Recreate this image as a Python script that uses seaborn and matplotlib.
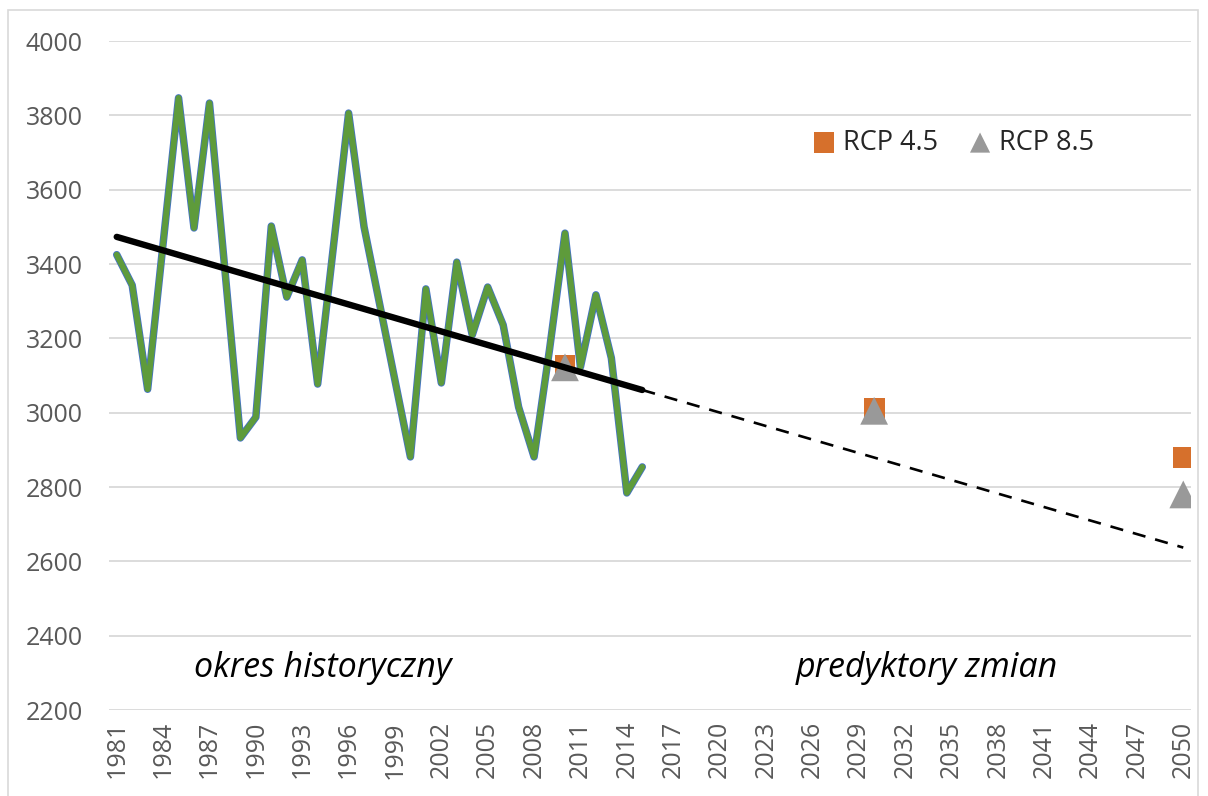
#!/usr/bin/env python3
"""Wykres: okres historyczny i predyktory zmian (RCP 4.5 / RCP 8.5)."""

import matplotlib
matplotlib.use("Agg")
import matplotlib.pyplot as plt
import seaborn as sns
from matplotlib.patches import Rectangle

# dane historyczne 1981-2015
LATA = list(range(1981, 2016))
WARTOSCI = [3425, 3343, 3063, 3455, 3847, 3497, 3833, 3383, 2932, 2988,
            3502, 3311, 3411, 3077, 3440, 3806, 3500, 3294, 3087, 2881,
            3333, 3080, 3405, 3209, 3338, 3236, 3015, 2881, 3170, 3483,
            3123, 3317, 3147, 2784, 2854]

# linia trendu: część historyczna i przedłużenie
TREND_LATA_HIST = [1981, 2015]
TREND_HIST = [3473, 3061]
TREND_LATA_PROJ = [2015, 2050]
TREND_PROJ = [3061, 2637]

# scenariusze
RCP_LATA = [2010, 2030, 2050]
RCP45 = [3127, 3012, 2880]
RCP85 = [3122, 3005, 2780]

X_TICKS = list(range(1981, 2051, 3))
Y_TICKS = list(range(2200, 4001, 200))

ZIELONY = "#5E9B3B"
NIEBIESKI = "#4472C4"
POMARANCZ = "#D6702C"
SZARY = "#999999"
TEKST = "#595959"


def main() -> None:
    sns.set_theme(style="white")
    plt.rcParams["font.family"] = ["Open Sans", "DejaVu Sans"]

    fig, ax = plt.subplots(figsize=(12.08, 7.96), dpi=100)
    fig.subplots_adjust(left=109 / 1208, right=1191 / 1208,
                        bottom=1 - 710 / 796, top=1 - 41 / 796)

    # znaczniki scenariuszy (pod linią)
    sns.scatterplot(x=RCP_LATA, y=RCP45, marker="s", s=225, color=POMARANCZ,
                    edgecolor="none", label="RCP 4.5", zorder=2, ax=ax)
    sns.scatterplot(x=RCP_LATA, y=RCP85, marker="^", s=400, color=SZARY,
                    edgecolor="none", label="RCP 8.5", zorder=2.1, ax=ax)

    # seria historyczna: zielona z cienką niebieską obwódką
    sns.lineplot(x=LATA, y=WARTOSCI, color=NIEBIESKI, linewidth=5.4,
                 solid_joinstyle="round", solid_capstyle="round",
                 legend=False, zorder=3, ax=ax)
    sns.lineplot(x=LATA, y=WARTOSCI, color=ZIELONY, linewidth=4.2,
                 solid_joinstyle="round", solid_capstyle="round",
                 legend=False, zorder=3.1, ax=ax)

    # trend
    sns.lineplot(x=TREND_LATA_HIST, y=TREND_HIST, color="black", linewidth=4.6,
                 solid_capstyle="round", legend=False, zorder=4, ax=ax)
    sns.lineplot(x=TREND_LATA_PROJ, y=TREND_PROJ, color="black", linewidth=1.9,
                 linestyle=(0, (5, 3.8)), legend=False, zorder=4, ax=ax)

    ax.set_xlim(1980.5, 2050.5)
    ax.set_ylim(2200, 4000)
    ax.set_xticks(X_TICKS)
    ax.set_xticklabels([str(r) for r in X_TICKS], rotation=90)
    ax.set_yticks(Y_TICKS)
    ax.tick_params(axis="both", length=0, labelsize=18, labelcolor=TEKST)
    ax.tick_params(axis="y", pad=19)
    ax.tick_params(axis="x", pad=8)
    ax.yaxis.grid(True, color="#D9D9D9", linewidth=1.3)
    ax.xaxis.grid(False)
    ax.set_axisbelow(True)
    for s in ax.spines.values():
        s.set_visible(False)
    ax.set_xlabel("")
    ax.set_ylabel("")

    ax.text(1994.3, 2313, "okres historyczny", style="italic", fontsize=24.5,
            ha="center", va="center", color="black")
    ax.text(2033.4, 2313, "predyktory zmian", style="italic", fontsize=24.5,
            ha="center", va="center", color="black")

    leg = ax.legend(loc="center", bbox_to_anchor=(0.78, 0.848), ncol=2,
                    frameon=False, fontsize=19.5, handlelength=0.9,
                    handletextpad=0.25, columnspacing=1.1, borderpad=0)
    leg.legend_handles[1].set_sizes([210])

    # ramka obszaru wykresu
    fig.patches.append(Rectangle((8 / 1208, -0.02), 1190 / 1208, 1.008,
                                 transform=fig.transFigure, fill=False,
                                 edgecolor="#D9D9D9", linewidth=1.2))

    fig.savefig("out.png", dpi=100)
    plt.close(fig)


if __name__ == "__main__":
    main()
